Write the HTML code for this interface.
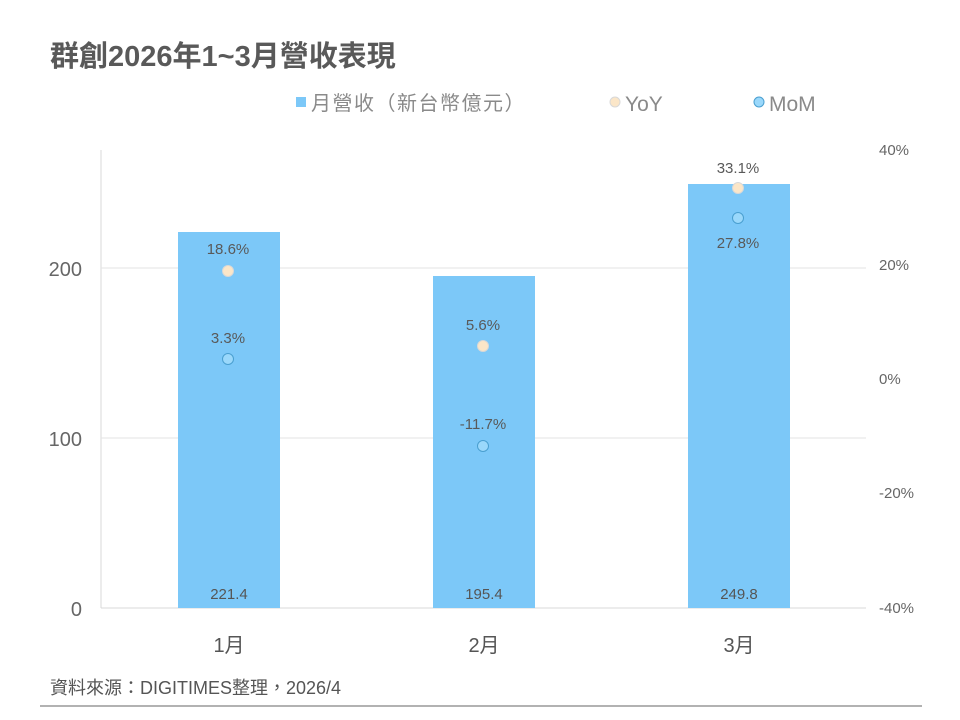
<!DOCTYPE html>
<html><head><meta charset="utf-8"><style>
html,body{margin:0;padding:0;background:#fff;}
svg{display:block;}
text{font-family:"Liberation Sans","Noto Sans CJK TC",sans-serif;}
</style></head><body>
<svg width="960" height="720" viewBox="0 0 960 720">
<text x="50" y="66" font-size="29" font-weight="bold" fill="#595959">群創2026年1~3月營收表現</text>
<!-- legend -->
<rect x="296" y="97" width="10" height="10" fill="#7cc8f8"/>
<text x="311" y="110" font-size="20" fill="#8a8a8a" letter-spacing="1.5">月營收（新台幣億元）</text>
<circle cx="615" cy="102" r="5" fill="#fbe6c8" stroke="#d8d8d8" stroke-width="1"/>
<text x="625" y="111" font-size="21" fill="#8a8a8a">YoY</text>
<circle cx="759" cy="102" r="5" fill="#9ad8fb" stroke="#4a9fd0" stroke-width="1"/>
<text x="769" y="111" font-size="21" fill="#8a8a8a">MoM</text>
<!-- grid -->
<line x1="101" y1="150" x2="101" y2="608" stroke="#d9d9d9"/>
<line x1="101" y1="268" x2="866" y2="268" stroke="#e3e3e3"/>
<line x1="101" y1="438" x2="866" y2="438" stroke="#e3e3e3"/>
<line x1="101" y1="608" x2="866" y2="608" stroke="#d9d9d9"/>
<!-- left axis -->
<g font-size="20" fill="#666" text-anchor="end">
<text x="82" y="276">200</text><text x="82" y="446">100</text><text x="82" y="616">0</text>
</g>
<!-- right axis -->
<g font-size="15" fill="#666">
<text x="879" y="155">40%</text><text x="879" y="270">20%</text><text x="879" y="384">0%</text>
<text x="879" y="498">-20%</text><text x="879" y="613">-40%</text>
</g>
<!-- bars -->
<rect x="178" y="232" width="102" height="376" fill="#7cc8f8"/>
<rect x="433" y="276" width="102" height="332" fill="#7cc8f8"/>
<rect x="688" y="184" width="102" height="424" fill="#7cc8f8"/>
<g font-size="15" fill="#555" text-anchor="middle">
<text x="229" y="599">221.4</text><text x="484" y="599">195.4</text><text x="739" y="599">249.8</text>
</g>
<!-- x labels -->
<g font-size="20" fill="#555" text-anchor="middle">
<text x="229" y="652">1月</text><text x="484" y="652">2月</text><text x="739" y="652">3月</text>
</g>
<!-- YoY -->
<g fill="#fbe6c8" stroke="#d8d8d8">
<circle cx="228" cy="271" r="5.5"/><circle cx="483" cy="346" r="5.5"/><circle cx="738" cy="188" r="5.5"/>
</g>
<!-- MoM -->
<g fill="#9ad8fb" stroke="#4a9fd0">
<circle cx="228" cy="359" r="5.5"/><circle cx="483" cy="446" r="5.5"/><circle cx="738" cy="218" r="5.5"/>
</g>
<g font-size="15" fill="#595959" text-anchor="middle">
<text x="228" y="254">18.6%</text><text x="228" y="343">3.3%</text>
<text x="483" y="330">5.6%</text><text x="483" y="429">-11.7%</text>
<text x="738" y="173">33.1%</text><text x="738" y="248">27.8%</text>
</g>
<text x="50" y="694" font-size="18" fill="#555">資料來源：DIGITIMES整理，2026/4</text>
<line x1="40" y1="706" x2="922" y2="706" stroke="#999" stroke-width="1.5"/>
</svg>
</body></html>
